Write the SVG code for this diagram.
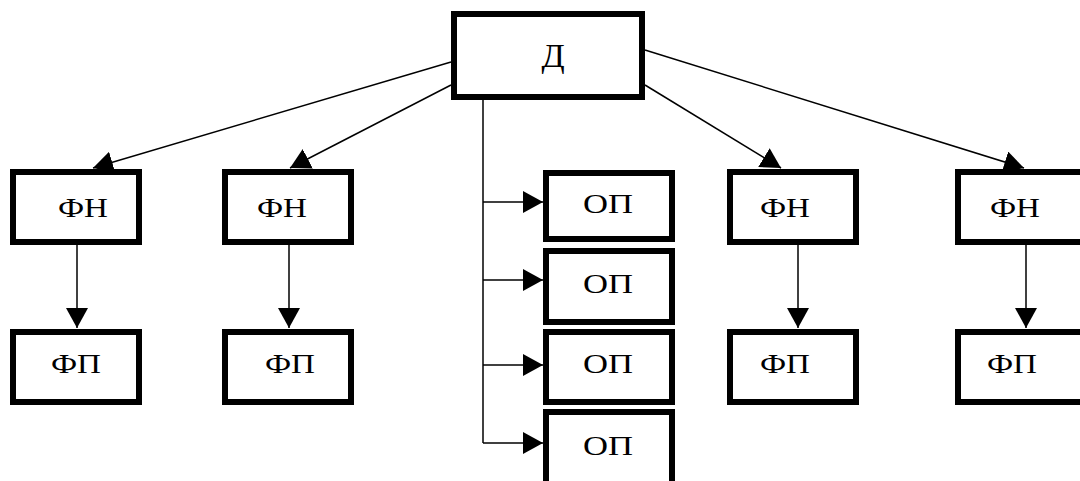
<svg xmlns="http://www.w3.org/2000/svg" width="1080" height="481" viewBox="0 0 1080 481">
<style>
.box{fill:#fff;stroke:#000;stroke-width:6}
.lbl{font-family:"Liberation Serif","DejaVu Serif",serif;font-size:28px;fill:#000;text-anchor:middle}
.big{font-size:34px}
.ln{fill:none;stroke:#000;stroke-width:1.5}
</style>
<defs>
<marker id="ah" markerUnits="userSpaceOnUse" markerWidth="21" markerHeight="22" refX="20" refY="11" orient="auto">
<path d="M0,0 L20,11 L0,22 z" fill="#000"/>
</marker>
</defs>
<rect width="1080" height="481" fill="#fff"/>
<g id="connectors">
<line class="ln" x1="451" y1="62" x2="93" y2="168" marker-end="url(#ah)"/>
<line class="ln" x1="451" y1="85" x2="290" y2="168" marker-end="url(#ah)"/>
<line class="ln" x1="645" y1="85" x2="781" y2="168" marker-end="url(#ah)"/>
<line class="ln" x1="645" y1="50" x2="1024" y2="168" marker-end="url(#ah)"/>
<line class="ln" x1="77" y1="245" x2="77" y2="328" marker-end="url(#ah)"/>
<line class="ln" x1="289" y1="245" x2="289" y2="328" marker-end="url(#ah)"/>
<line class="ln" x1="798" y1="245" x2="798" y2="328" marker-end="url(#ah)"/>
<line class="ln" x1="1026" y1="245" x2="1026" y2="328" marker-end="url(#ah)"/>
<polyline class="ln" points="483,100 483,443"/>
<line class="ln" x1="483" y1="202" x2="543" y2="202" marker-end="url(#ah)"/>
<line class="ln" x1="483" y1="280" x2="543" y2="280" marker-end="url(#ah)"/>
<line class="ln" x1="483" y1="365" x2="543" y2="365" marker-end="url(#ah)"/>
<line class="ln" x1="483" y1="443" x2="543" y2="443" marker-end="url(#ah)"/>
</g>
<g id="d"><rect class="box" x="454" y="14" width="188" height="83"/><text class="lbl big" x="553" y="67">Д</text></g>
<g id="fn1"><rect class="box" x="13" y="172" width="126" height="70"/><text class="lbl" x="83" y="217" textLength="50" lengthAdjust="spacingAndGlyphs">ФН</text></g>
<g id="fp1"><rect class="box" x="13" y="332" width="126" height="70"/><text class="lbl" x="76" y="373" textLength="50" lengthAdjust="spacingAndGlyphs">ФП</text></g>
<g id="fn2"><rect class="box" x="225" y="172" width="126" height="70"/><text class="lbl" x="282" y="217" textLength="50" lengthAdjust="spacingAndGlyphs">ФН</text></g>
<g id="fp2"><rect class="box" x="225" y="332" width="126" height="70"/><text class="lbl" x="290" y="373" textLength="50" lengthAdjust="spacingAndGlyphs">ФП</text></g>
<g id="op1"><rect class="box" x="546" y="173" width="126" height="66"/><text class="lbl" x="608" y="213" textLength="50" lengthAdjust="spacingAndGlyphs">ОП</text></g>
<g id="op2"><rect class="box" x="546" y="251" width="126" height="71"/><text class="lbl" x="608" y="293" textLength="50" lengthAdjust="spacingAndGlyphs">ОП</text></g>
<g id="op3"><rect class="box" x="546" y="332" width="126" height="70"/><text class="lbl" x="608" y="373" textLength="50" lengthAdjust="spacingAndGlyphs">ОП</text></g>
<g id="op4"><rect class="box" x="546" y="412" width="126" height="80"/><text class="lbl" x="608" y="455" textLength="50" lengthAdjust="spacingAndGlyphs">ОП</text></g>
<g id="fn3"><rect class="box" x="730" y="172" width="126" height="70"/><text class="lbl" x="785" y="217" textLength="50" lengthAdjust="spacingAndGlyphs">ФН</text></g>
<g id="fp3"><rect class="box" x="730" y="332" width="126" height="70"/><text class="lbl" x="785" y="373" textLength="50" lengthAdjust="spacingAndGlyphs">ФП</text></g>
<g id="fn4"><rect class="box" x="958" y="172" width="140" height="70"/><text class="lbl" x="1015" y="217" textLength="50" lengthAdjust="spacingAndGlyphs">ФН</text></g>
<g id="fp4"><rect class="box" x="958" y="332" width="140" height="70"/><text class="lbl" x="1012" y="373" textLength="50" lengthAdjust="spacingAndGlyphs">ФП</text></g>
</svg>
